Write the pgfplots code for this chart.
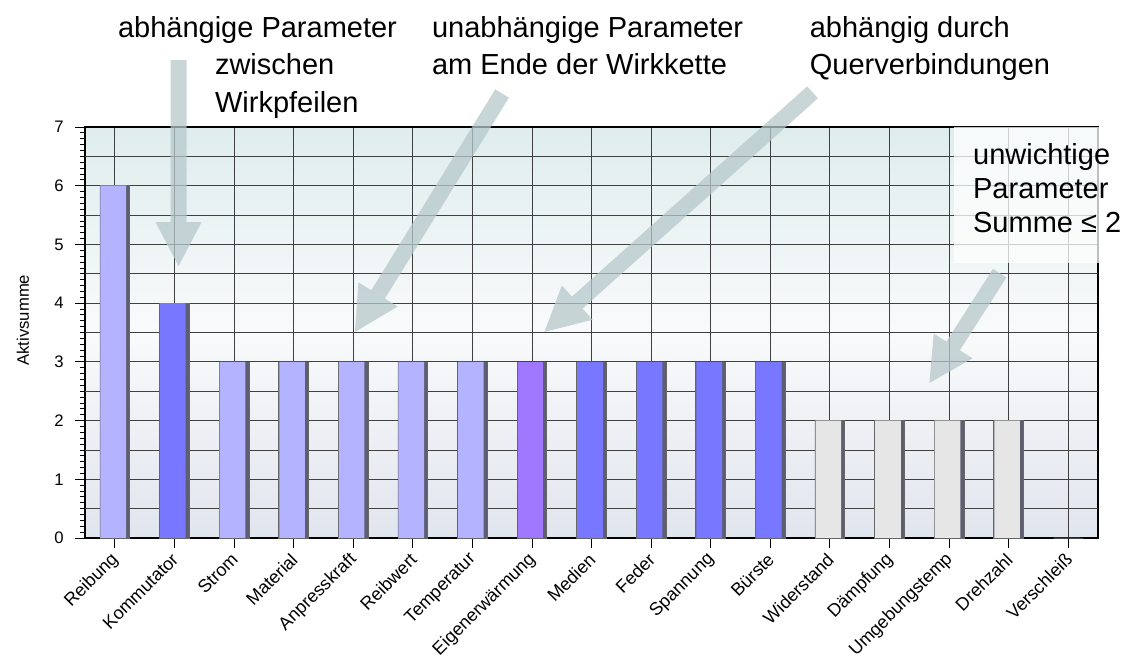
\documentclass[border=0pt]{standalone}
\usepackage{fontspec}
\setmainfont{Liberation Sans}
\usepackage{pgfplots}
\pgfplotsset{compat=1.18}
\usetikzlibrary{arrows.meta,calc}
\definecolor{barlight}{HTML}{B3B3FF}
\definecolor{barblue}{HTML}{7777FF}
\definecolor{barpurple}{HTML}{A078FF}
\definecolor{bargray}{HTML}{E6E6E6}
\definecolor{barshadow}{HTML}{5E5E72}
\definecolor{arrowc}{HTML}{B6C8CB}
\definecolor{bgtop}{HTML}{DFEDED}
\definecolor{bgmid}{HTML}{F9FAFB}
\definecolor{bgbot}{HTML}{E1E5ED}
\newcommand{\annfont}{\fontsize{21.75}{26}\selectfont}
\newcommand{\yfont}{\fontsize{12.5}{14}\selectfont}
% big translucent arrow as one filled polygon: from (#1,#2) to tip (#3,#4)
\newcommand{\bigarrow}[4]{%
  \coordinate (aA) at (axis cs:#1,#2);
  \coordinate (aB) at (axis cs:#3,#4);
  \coordinate (aH) at ($(aB)!33pt!(aA)$);
  \fill[arrowc, opacity=0.75]
    ($(aA)!6pt!90:(aB)$) -- ($(aH)!6pt!90:(aB)$) -- ($(aH)!17.25pt!90:(aB)$) -- (aB)
    -- ($(aH)!17.25pt!-90:(aB)$) -- ($(aH)!6pt!-90:(aB)$) -- ($(aA)!6pt!-90:(aB)$) -- cycle;
}
\begin{document}
\begin{tikzpicture}
\useasboundingbox (0,0) rectangle (853.5pt,499.5pt);
\begin{axis}[
  at={(63.75pt,96pt)}, anchor=south west,
  width=759.75pt, height=308.25pt, scale only axis,
  xmin=-0.5, xmax=16.5, ymin=0, ymax=7,
  clip=false,
  /pgf/number format/assume math mode=true,
  xtick={0,...,16},
  xticklabels={Reibung,Kommutator,Strom,Material,Anpresskraft,Reibwert,Temperatur,Eigenerwärmung,Medien,Feder,Spannung,Bürste,Widerstand,Dämpfung,Umgebungstemp,Drehzahl,Verschleiß},
  xticklabel style={xshift=3pt, yshift=-4pt, rotate=45, anchor=east, font=\fontsize{13.5}{14}\selectfont},
  ytick={0,...,7},
  yticklabels={{\yfont 0},{\yfont 1},{\yfont 2},{\yfont 3},{\yfont 4},{\yfont 5},{\yfont 6},{\yfont 7}},
  minor y tick num=9,
  extra y ticks={0.5,1.5,2.5,3.5,4.5,5.5,6.5},
  extra y tick labels={},
  extra y tick style={grid=major, major tick length=0pt},
  yticklabel style={xshift=-5pt},
  tick pos=left,
  tick align=outside,
  major tick length=7.5pt, minor tick length=3.5pt,
  tick style={black, line width=0.6pt},
  xmajorgrids, ymajorgrids,
  major grid style={black!75, line width=0.6pt},
  axis line style={black, line width=1.3pt},
  axis background/.style={shade, top color=bgtop, bottom color=bgbot, middle color=bgmid},
  ylabel={\yfont Aktivsumme},
  every axis y label/.style={at={(rel axis cs:-0.0612,0.53)}, rotate=90, anchor=center},
]
% shadow / frame of every bar
\addplot[ybar, bar width=0.5, bar shift=0, fill=barshadow, draw=gray!80!black, line width=0.5pt]
  coordinates {(0,6)(1,4)(2,3)(3,3)(4,3)(5,3)(6,3)(7,3)(8,3)(9,3)(10,3)(11,3)(12,2)(13,2)(14,2)(15,2)(16,0)};
% light lavender bars
\addplot[ybar, bar width=0.43, bar shift=-0.025, fill=barlight, draw=none]
  coordinates {(0,6)(2,3)(3,3)(4,3)(5,3)(6,3)};
% blue bars
\addplot[ybar, bar width=0.43, bar shift=-0.025, fill=barblue, draw=none]
  coordinates {(1,4)(8,3)(9,3)(10,3)(11,3)};
% purple bar
\addplot[ybar, bar width=0.43, bar shift=-0.025, fill=barpurple, draw=none]
  coordinates {(7,3)};
% grey bars
\addplot[ybar, bar width=0.43, bar shift=-0.025, fill=bargray, draw=none]
  coordinates {(12,2)(13,2)(14,2)(15,2)(16,0)};

% arrows
\bigarrow{1.07}{8.14}{1.07}{4.63}
\bigarrow{6.50}{7.57}{4.03}{3.51}
\bigarrow{11.71}{7.59}{7.21}{3.51}
\bigarrow{14.85}{4.51}{13.67}{2.64}

% white box behind the right annotation
\fill[white, opacity=0.75] (axis cs:14.09,7) rectangle (axis cs:16.53,4.68);

% annotation texts
\node[anchor=base west, inner sep=0, font=\annfont] at (axis cs:0.05,8.518) {abhängige Parameter};
\node[anchor=base west, inner sep=0, font=\annfont] at (axis cs:1.678,7.888) {zwischen};
\node[anchor=base west, inner sep=0, font=\annfont] at (axis cs:1.678,7.240) {Wirkpfeilen};
\node[anchor=base west, inner sep=0, font=\annfont] at (axis cs:5.32,8.518) {unabhängige Parameter};
\node[anchor=base west, inner sep=0, font=\annfont] at (axis cs:5.32,7.888) {am Ende der Wirkkette};
\node[anchor=base west, inner sep=0, font=\annfont] at (axis cs:11.66,8.518) {abhängig durch};
\node[anchor=base west, inner sep=0, font=\annfont] at (axis cs:11.66,7.888) {Querverbindungen};
\node[anchor=base west, inner sep=0, font=\annfont] at (axis cs:14.40,6.354) {unwichtige};
\node[anchor=base west, inner sep=0, font=\annfont] at (axis cs:14.40,5.775) {Parameter};
\node[anchor=base west, inner sep=0, font=\annfont] at (axis cs:14.40,5.196) {Summe ≤ 2};
\end{axis}
\end{tikzpicture}
\end{document}
